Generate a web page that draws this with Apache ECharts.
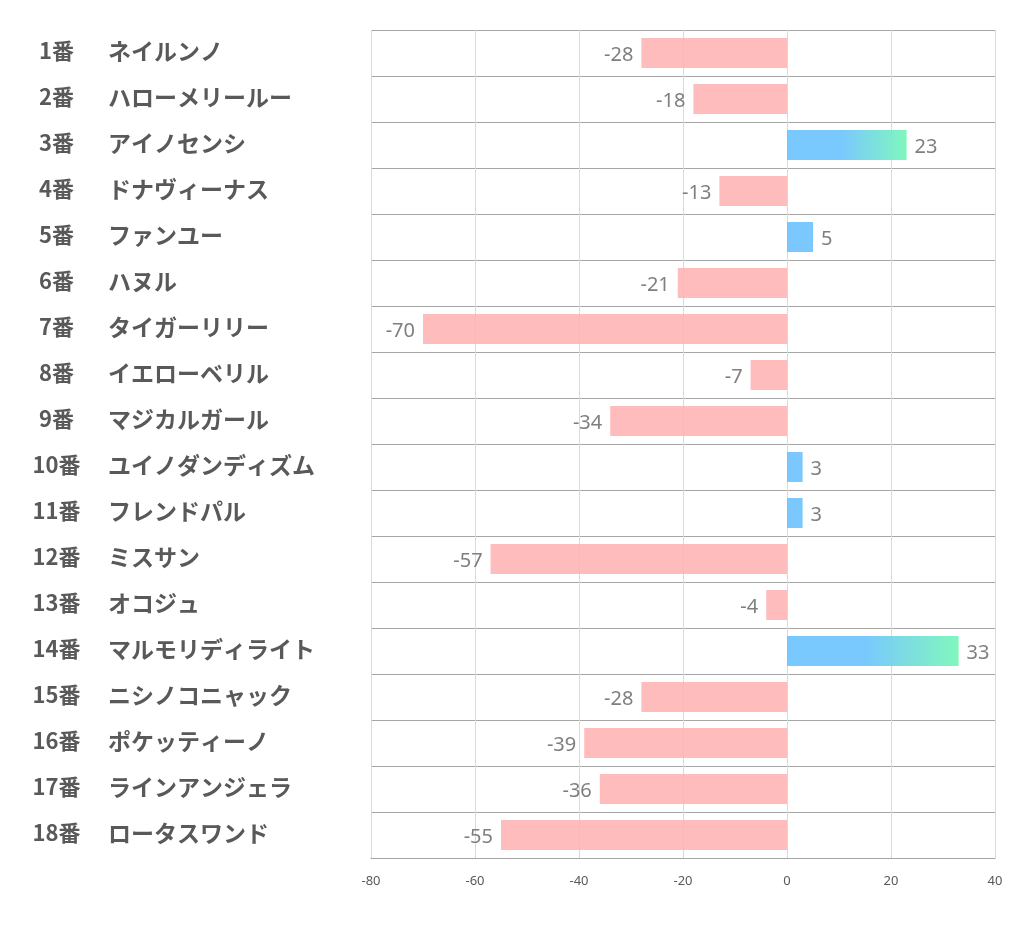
<!DOCTYPE html>
<html>
<head>
<meta charset="utf-8">
<script src="https://cdn.jsdelivr.net/npm/echarts@6/dist/echarts.min.js"></script>
<style>html,body{margin:0;padding:0;background:#fff}#c{width:1022px;height:939px}</style>
</head>
<body>
<div id="c"></div>
<script>
const numbers = ["1番","2番","3番","4番","5番","6番","7番","8番","9番","10番","11番","12番","13番","14番","15番","16番","17番","18番"];
const names = ["ネイルンノ","ハローメリールー","アイノセンシ","ドナヴィーナス","ファンユー","ハヌル","タイガーリリー","イエローベリル","マジカルガール","ユイノダンディズム","フレンドパル","ミスサン","オコジュ","マルモリディライト","ニシノコニャック","ポケッティーノ","ラインアンジェラ","ロータスワンド"];
const values = [-28,-18,23,-13,5,-21,-70,-7,-34,3,3,-57,-4,33,-28,-39,-36,-55];
const xTicks = [-80,-60,-40,-20,0,20,40];

const categories = numbers.map((n,i)=>n+"|"+names[i]);
const pink = 'rgba(255,176,177,0.85)';
const blue = 'rgba(107,194,254,0.9)';
const gradient = new echarts.graphic.LinearGradient(0,0,1,0,[
  {offset:0,color:blue},{offset:0.45,color:blue},{offset:1,color:'rgba(114,246,182,0.9)'}]);

const data = values.map(v=>({
  value:v,
  itemStyle:{color: v<0 ? pink : (v>=15 ? gradient : blue)},
  label:{position: v<0 ? 'left' : 'right'}
}));

const chart = echarts.init(document.getElementById('c'));
chart.setOption({
  animation:false,
  grid:{left:371,right:27,top:30,bottom:81,containLabel:false},
  xAxis:{type:'value',min:xTicks[0],max:xTicks[xTicks.length-1],interval:20,
    axisLine:{show:true,lineStyle:{color:'#a6a6a6',width:1}},
    axisTick:{show:false},
    axisLabel:{color:'#595959',fontSize:13,margin:17,fontFamily:'Noto Sans'},
    splitLine:{show:true,lineStyle:{color:'#d9d9d9',width:1}}
  },
  yAxis:{type:'category',data:categories,inverse:true,
    axisLine:{show:false},axisTick:{show:false},
    splitLine:{show:true,lineStyle:{color:'#a6a6a6',width:1}},
    axisLabel:{align:'left',margin:341,
      formatter:function(v){const p=v.split('|');return '{a|'+p[0]+'}{b|'+p[1]+'}';},
      rich:{
        a:{width:53,align:'right',padding:[0,0,4,0],fontSize:22,fontWeight:'bold',color:'#595959',fontFamily:'Noto Sans CJK JP'},
        b:{padding:[0,0,4,25],fontSize:23,fontWeight:'bold',color:'#595959',fontFamily:'Noto Sans CJK JP'}
      }
    }
  },
  series:[{type:'bar',data:data,barWidth:30,
    label:{show:true,distance:8,offset:[0,2],fontSize:20,color:'#7f7f7f',fontFamily:'Noto Sans'}
  }]
});
</script>
</body>
</html>
